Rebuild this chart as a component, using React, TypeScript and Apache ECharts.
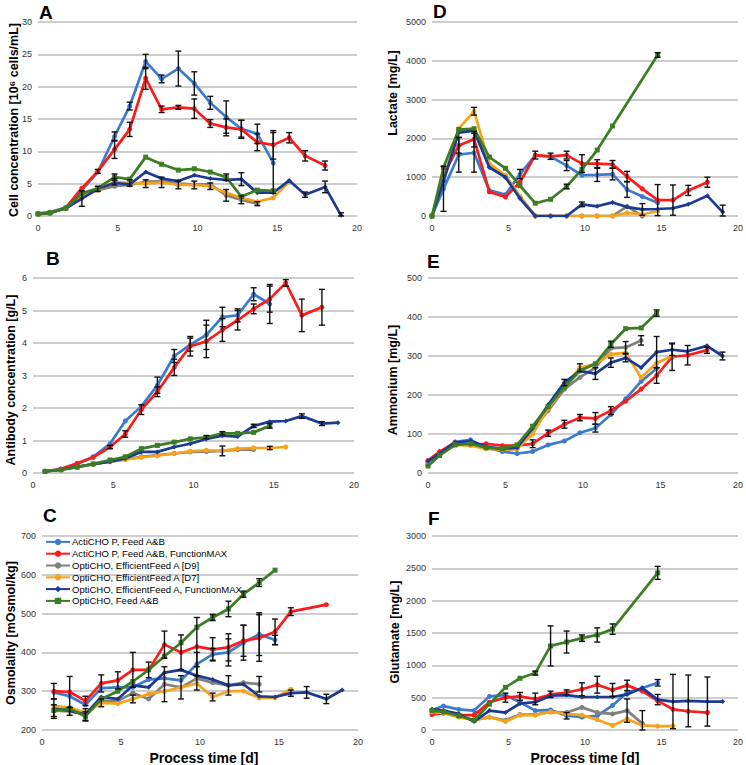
import React, { useEffect, useRef } from "react";
import * as echarts from "echarts";

const _ = null;

// sampling times (process days)
const DAYS = [0, 0.75, 1.75, 2.75, 3.75, 4.8, 5.75, 6.75, 7.75, 8.8, 9.8, 10.8, 11.8, 12.75, 13.75, 14.75, 15.75, 16.75, 18, 19];

const SERIES_NAMES = [
  "ActiCHO P, Feed A&B",
  "ActiCHO P, Feed A&B, FunctionMAX",
  "OptiCHO, EfficientFeed A [D9]",
  "OptiCHO, EfficientFeed A [D7]",
  "OptiCHO, EfficientFeed A, FunctionMAX",
  "OptiCHO, Feed A&B",
];
const COLORS = ["#3b7bcb", "#ff1a1a", "#7f7f7f", "#f7a21b", "#1b3a93", "#3a7d22"];
const SYMBOLS = ["circle", "circle", "circle", "circle", "diamond", "rect"];

// A: cell concentration [10^6 cells/mL]
const cellActiAB = [0.4, 0.6, 1.3, 4.0, 6.8, 12.3, 17.0, 23.9, 21.2, 22.8, 20.5, 17.5, 15.3, 13.5, 12.7, 8.2, _, _, _, _];
const cellActiMax = [0.3, 0.4, 1.3, 4.3, 6.9, 10.3, 13.4, 21.3, 16.5, 16.8, 16.6, 14.3, 13.7, 13.4, 11.4, 11.0, 12.1, 9.3, 7.8, _];
const cellOptiD9 = [0.3, 0.5, 1.2, 3.2, 4.0, 4.6, 4.8, 5.3, 5.4, 5.0, 4.9, 4.9, 3.2, 2.5, 1.9, _, _, _, _, _];
const cellOptiD7 = [0.3, 0.5, 1.2, 3.0, 4.0, 5.3, 5.1, 5.0, 5.2, 4.8, 4.8, 4.6, 3.6, 2.8, 2.2, 2.8, 5.3, _, _, _];
const cellOptiMax = [0.3, 0.5, 1.2, 2.7, 4.2, 5.1, 4.9, 6.8, 5.8, 5.4, 6.3, 5.8, 5.6, 5.7, 3.6, 3.6, 5.5, 3.3, 4.5, 0.1];
const cellOptiAB = [0.3, 0.5, 1.2, 3.5, 4.3, 6.0, 5.7, 9.1, 8.0, 7.1, 7.3, 6.8, 6.0, 3.0, 4.0, 3.9, _, _, _, _];
const cellErrActiAB = [0, 0, 0, 0, 0, 0.7, 0.6, 1.1, 0.6, 2.7, 1.8, 1.0, 2.5, 1.3, 1.5, 4.7, 0, 0, 0, 0];
const cellErrActiMax = [0, 0, 0, 0, 0.3, 1.4, 1.1, 1.7, 0.5, 0.3, 1.5, 0.6, 1.3, 1.4, 1.3, 2.2, 0.8, 0.8, 0.7, 0];
const cellErrOptiD9 = [0, 0, 0, 0, 0, 0, 0, 0, 0, 0, 0, 0, 0.9, 0.6, 0.3, 0, 0, 0, 0, 0];
const cellErrOptiD7 = [0, 0, 0, 0, 0, 0.5, 0.5, 0.6, 0.8, 0.6, 0.6, 0.5, 0, 0, 0, 0, 0, 0, 0, 0];
const cellErrOptiMax = [0, 0, 0, 1.2, 0.4, 0, 0, 0, 0, 0, 0, 0, 0, 1.0, 0, 0, 0, 0.4, 0.9, 0.4];
const cellErrOptiAB = [0, 0, 0, 0, 0, 0.5, 0, 0, 0, 0, 0, 0, 0.5, 0, 0, 0, 0, 0, 0, 0];

// B: antibody concentration [g/L]
const abActiAB = [_, 0.05, 0.12, 0.28, 0.5, 0.9, 1.6, 2.05, 2.7, 3.6, 3.95, 4.25, 4.8, 4.85, 5.5, 5.2, _, _, _, _];
const abActiMax = [_, 0.05, 0.12, 0.3, 0.48, 0.8, 1.2, 1.95, 2.5, 3.25, 3.9, 4.05, 4.4, 4.7, 5.05, 5.35, 5.85, 4.85, 5.1, _];
const abOptiD9 = [_, 0.05, 0.1, 0.18, 0.27, 0.35, 0.42, 0.5, 0.55, 0.6, 0.65, 0.66, 0.68, 0.72, 0.72, _, _, _, _, _];
const abOptiD7 = [_, 0.05, 0.1, 0.18, 0.27, 0.35, 0.42, 0.48, 0.53, 0.6, 0.67, 0.7, 0.68, 0.75, 0.77, 0.77, 0.8, _, _, _];
const abOptiMax = [_, 0.05, 0.1, 0.2, 0.27, 0.35, 0.45, 0.65, 0.65, 0.8, 0.9, 1.05, 1.15, 1.12, 1.45, 1.58, 1.6, 1.75, 1.52, 1.55];
const abOptiAB = [_, 0.05, 0.1, 0.18, 0.28, 0.4, 0.5, 0.75, 0.85, 0.95, 1.05, 1.1, 1.22, 1.22, 1.25, 1.45, _, _, _, _];
const abErrActiAB = [0, 0, 0, 0, 0, 0, 0, 0, 0.25, 0.2, 0.2, 0.45, 0.3, 0.2, 0.2, 0.6, 0, 0, 0, 0];
const abErrActiMax = [0, 0, 0, 0, 0, 0.05, 0.1, 0.15, 0.15, 0.25, 0.3, 0.5, 0.35, 0.3, 0.15, 0.4, 0.1, 0.5, 0.55, 0];
const abErrOptiD9 = [0, 0, 0, 0, 0, 0, 0, 0, 0, 0, 0, 0, 0, 0, 0, 0, 0, 0, 0, 0];
const abErrOptiD7 = [0, 0, 0, 0, 0, 0, 0, 0, 0, 0, 0, 0, 0.15, 0, 0, 0.05, 0, 0, 0, 0];
const abErrOptiMax = [0, 0, 0, 0, 0, 0, 0, 0, 0, 0, 0, 0, 0, 0, 0.05, 0, 0, 0.07, 0.06, 0];
const abErrOptiAB = [0, 0, 0, 0, 0, 0, 0, 0, 0, 0, 0, 0.05, 0.05, 0, 0, 0.07, 0, 0, 0, 0];

// C: osmolality [mOsmol/kg]
const osmActiAB = [_, 297, 287, 265, 308, 310, 310, 330, 333, 328, 370, 395, 400, 425, 447, 432, _, _, _, _];
const osmActiMax = [_, 300, 298, 275, 320, 328, 355, 355, 420, 400, 415, 408, 413, 430, 437, 453, 505, _, 523, _];
const osmOptiD9 = [_, 250, 248, 240, 275, 275, 295, 280, 318, 310, 333, 322, 315, 322, 318, _, _, _, _, _];
const osmOptiD7 = [_, 262, 258, 245, 270, 268, 280, 293, 300, 310, 320, 285, 300, 300, 283, 283, 305, _, _, _];
const osmOptiMax = [_, 255, 250, 240, 285, 280, 315, 310, 348, 355, 340, 330, 315, 318, 287, 285, 295, 297, 280, 303];
const osmOptiAB = [_, 250, 255, 235, 280, 300, 325, 355, 390, 425, 465, 490, 512, 550, 580, 612, _, _, _, _];
const osmErrActiAB = [0, 0, 0, 0, 0, 0, 0, 0, 0, 0, 30, 15, 35, 45, 55, 12, 0, 0, 0, 0];
const osmErrActiMax = [0, 20, 40, 12, 22, 22, 45, 20, 35, 45, 75, 30, 35, 40, 60, 33, 10, 0, 0, 0];
const osmErrOptiD9 = [0, 15, 10, 15, 0, 0, 0, 0, 45, 30, 30, 0, 25, 0, 20, 0, 0, 0, 0, 0];
const osmErrOptiD7 = [0, 0, 0, 0, 10, 0, 10, 0, 0, 0, 0, 10, 0, 0, 0, 0, 0, 0, 0, 0];
const osmErrOptiMax = [0, 25, 0, 0, 0, 0, 0, 0, 0, 0, 0, 0, 0, 0, 0, 0, 8, 15, 12, 0];
const osmErrOptiAB = [0, 0, 0, 12, 0, 0, 0, 0, 0, 0, 0, 8, 20, 8, 10, 0, 0, 0, 0, 0];

// D: lactate [mg/L]
const lacActiAB = [0, 700, 1580, 1630, 660, 550, 1080, 1560, 1530, 1300, 1050, 1060, 1080, 680, 500, 340, _, _, _, _];
const lacActiMax = [0, 1050, 1820, 1980, 620, 490, 870, 1570, 1540, 1570, 1350, 1350, 1330, 1020, 700, 410, 410, 660, 870, _];
const lacOptiD9 = [0, 900, 2200, 2200, 1280, 1000, 500, 0, 0, 0, 0, 0, 0, 250, 0, _, _, _, _, _];
const lacOptiD7 = [0, 950, 2250, 2700, 1350, 1050, 500, 0, 0, 0, 0, 0, 0, 80, 40, 130, _, _, _, _];
const lacOptiMax = [0, 900, 2150, 2200, 1250, 1000, 450, 0, 0, 0, 300, 250, 350, 230, 170, 180, 200, 300, 520, 100];
const lacOptiAB = [0, 1250, 2230, 2250, 1520, 1230, 780, 330, 430, 760, 1200, 1700, 2320, _, _, 4150, _, _, _, _];
const lacErrActiAB = [0, 580, 450, 500, 0, 0, 120, 0, 0, 130, 0, 170, 150, 200, 0, 0, 0, 0, 0, 0];
const lacErrActiMax = [0, 0, 200, 200, 0, 0, 0, 100, 80, 100, 230, 100, 100, 130, 0, 400, 390, 130, 130, 0];
const lacErrOptiD9 = [0, 0, 0, 0, 0, 0, 0, 0, 0, 0, 0, 0, 0, 0, 0, 0, 0, 0, 0, 0];
const lacErrOptiD7 = [0, 0, 0, 100, 0, 0, 0, 0, 0, 0, 0, 0, 0, 0, 0, 0, 0, 0, 0, 0];
const lacErrOptiMax = [0, 0, 0, 0, 0, 0, 0, 0, 0, 0, 60, 0, 0, 0, 150, 0, 0, 0, 0, 180];
const lacErrOptiAB = [0, 0, 0, 0, 0, 0, 0, 0, 0, 60, 0, 0, 0, 0, 0, 60, 0, 0, 0, 0];

// E: ammonium [mg/L]
const nhActiAB = [30, 52, 80, 85, 65, 55, 50, 55, 72, 82, 103, 115, 150, 190, 235, 268, _, _, _, _];
const nhActiMax = [32, 55, 78, 72, 75, 70, 70, 75, 102, 125, 142, 140, 160, 184, 215, 250, 298, 302, 315, _];
const nhOptiD9 = [25, 48, 75, 72, 65, 60, 62, 110, 160, 215, 245, 270, 320, 322, 340, _, _, _, _, _];
const nhOptiD7 = [22, 48, 72, 70, 62, 60, 62, 100, 165, 220, 270, 280, 305, 308, 245, 282, 300, _, _, _];
const nhOptiMax = [30, 50, 78, 82, 68, 62, 65, 115, 175, 232, 262, 255, 283, 295, 270, 310, 316, 312, 326, 300];
const nhOptiAB = [18, 45, 72, 75, 65, 62, 72, 120, 170, 220, 262, 280, 330, 370, 372, 410, _, _, _, _];
const nhErrActiAB = [0, 0, 0, 0, 0, 0, 0, 0, 0, 0, 0, 10, 0, 0, 0, 0, 0, 0, 0, 0];
const nhErrActiMax = [0, 0, 0, 0, 0, 0, 0, 10, 8, 10, 8, 15, 10, 0, 0, 20, 35, 25, 8, 0];
const nhErrOptiD9 = [0, 0, 0, 0, 0, 0, 0, 0, 0, 0, 0, 0, 0, 15, 12, 0, 0, 0, 0, 0];
const nhErrOptiD7 = [0, 0, 0, 0, 0, 0, 0, 0, 0, 0, 10, 0, 0, 0, 0, 0, 0, 0, 0, 0];
const nhErrOptiMax = [0, 0, 0, 0, 0, 0, 0, 0, 0, 8, 0, 15, 12, 10, 0, 40, 15, 0, 0, 10];
const nhErrOptiAB = [0, 0, 0, 0, 0, 0, 0, 0, 0, 0, 0, 0, 8, 0, 0, 8, 0, 0, 0, 0];

// F: glutamate [mg/L]
const gluActiAB = [310, 370, 320, 300, 520, 540, 430, 300, 310, 220, 200, 220, 380, 580, 650, 730, _, _, _, _];
const gluActiMax = [240, 260, 230, 230, 430, 500, 520, 480, 550, 580, 630, 700, 620, 690, 600, 450, 320, 290, 270, _];
const gluOptiD9 = [300, 280, 220, 150, 200, 150, 240, 240, 280, 270, 350, 270, 250, 300, 100, _, _, _, _, _];
const gluOptiD7 = [280, 260, 200, 150, 200, 130, 230, 230, 280, 250, 230, 160, 70, 170, 70, 60, 60, _, _, _];
const gluOptiMax = [320, 300, 250, 130, 300, 270, 410, 430, 530, 540, 510, 510, 510, 550, 650, 470, 440, 450, 440, 440];
const gluOptiAB = [300, 280, 220, 150, 400, 660, 800, 880, 1300, 1360, 1420, 1470, 1560, _, _, 2430, _, _, _, _];
const gluErrActiAB = [0, 0, 0, 0, 0, 0, 0, 0, 0, 50, 0, 0, 0, 0, 0, 50, 0, 0, 0, 0];
const gluErrActiMax = [0, 0, 0, 0, 0, 70, 60, 90, 50, 40, 100, 130, 100, 80, 0, 0, 0, 0, 0, 0];
const gluErrOptiD9 = [0, 0, 0, 0, 0, 0, 0, 0, 0, 0, 0, 0, 0, 180, 200, 0, 0, 0, 0, 0];
const gluErrOptiD7 = [0, 0, 0, 0, 0, 0, 0, 0, 0, 0, 0, 0, 0, 0, 0, 0, 0, 0, 0, 0];
const gluErrOptiMax = [0, 0, 0, 0, 0, 0, 0, 0, 0, 0, 0, 0, 0, 0, 0, 80, 420, 400, 380, 0];
const gluErrOptiAB = [0, 0, 0, 0, 0, 0, 0, 30, 310, 170, 50, 110, 80, 0, 0, 100, 0, 0, 0, 0];

const X_TICKS = { min: 0, max: 20, interval: 5 };

const PANELS = [
  { letter: "A", grid: { left: 38, top: 22, width: 319, height: 194 }, y: { min: 0, max: 30, interval: 5 },
    name: "Cell concentration [10\u2076 cells/mL]", nameX: 14, nameY: 120, letterX: 39, letterY: 3,
    values: [cellActiAB, cellActiMax, cellOptiD9, cellOptiD7, cellOptiMax, cellOptiAB],
    errors: [cellErrActiAB, cellErrActiMax, cellErrOptiD9, cellErrOptiD7, cellErrOptiMax, cellErrOptiAB] },
  { letter: "B", grid: { left: 33, top: 278, width: 321, height: 195 }, y: { min: 0, max: 6, interval: 1 },
    name: "Antibody concentration [g/L]", nameX: 11, nameY: 380, letterX: 46, letterY: 249,
    values: [abActiAB, abActiMax, abOptiD9, abOptiD7, abOptiMax, abOptiAB],
    errors: [abErrActiAB, abErrActiMax, abErrOptiD9, abErrOptiD7, abErrOptiMax, abErrOptiAB] },
  { letter: "C", grid: { left: 42, top: 536, width: 316, height: 194 }, y: { min: 200, max: 700, interval: 100 },
    name: "Osmolality [mOsmol/kg]", nameX: 11, nameY: 633, letterX: 43, letterY: 506,
    values: [osmActiAB, osmActiMax, osmOptiD9, osmOptiD7, osmOptiMax, osmOptiAB],
    errors: [osmErrActiAB, osmErrActiMax, osmErrOptiD9, osmErrOptiD7, osmErrOptiMax, osmErrOptiAB] },
  { letter: "D", grid: { left: 432, top: 22, width: 308, height: 194 }, y: { min: 0, max: 5000, interval: 1000 },
    name: "Lactate [mg/L]", nameX: 393, nameY: 93, letterX: 433, letterY: 2,
    values: [lacActiAB, lacActiMax, lacOptiD9, lacOptiD7, lacOptiMax, lacOptiAB],
    errors: [lacErrActiAB, lacErrActiMax, lacErrOptiD9, lacErrOptiD7, lacErrOptiMax, lacErrOptiAB] },
  { letter: "E", grid: { left: 428, top: 278, width: 312, height: 195 }, y: { min: 0, max: 500, interval: 100 },
    name: "Ammonium [mg/L]", nameX: 393, nameY: 380, letterX: 427, letterY: 252,
    values: [nhActiAB, nhActiMax, nhOptiD9, nhOptiD7, nhOptiMax, nhOptiAB],
    errors: [nhErrActiAB, nhErrActiMax, nhErrOptiD9, nhErrOptiD7, nhErrOptiMax, nhErrOptiAB] },
  { letter: "F", grid: { left: 432, top: 536, width: 308, height: 194 }, y: { min: 0, max: 3000, interval: 500 },
    name: "Glutamate [mg/L]", nameX: 395, nameY: 632, letterX: 428, letterY: 509,
    values: [gluActiAB, gluActiMax, gluOptiD9, gluOptiD7, gluOptiMax, gluOptiAB],
    errors: [gluErrActiAB, gluErrActiMax, gluErrOptiD9, gluErrOptiD7, gluErrOptiMax, gluErrOptiAB] },
];

const AXIS_FONT = "Liberation Sans";

function errorRender(params: any, api: any) {
  const x = api.value(0);
  const lo = api.value(1);
  const hi = api.value(2);
  const top = api.coord([x, hi]);
  const bot = api.coord([x, lo]);
  const cw = 3;
  const style = { stroke: "#111", lineWidth: 1.4, fill: null };
  return {
    type: "group",
    children: [
      { type: "line", shape: { x1: top[0], y1: top[1], x2: bot[0], y2: bot[1] }, style },
      { type: "line", shape: { x1: top[0] - cw, y1: top[1], x2: top[0] + cw, y2: top[1] }, style },
      { type: "line", shape: { x1: bot[0] - cw, y1: bot[1], x2: bot[0] + cw, y2: bot[1] }, style },
    ],
  };
}

function buildOption() {
  const grids: any[] = [];
  const xAxes: any[] = [];
  const yAxes: any[] = [];
  const series: any[] = [];
  const graphics: any[] = [];

  PANELS.forEach((p, pi) => {
    grids.push({ ...p.grid, containLabel: false });
    xAxes.push({
      type: "value", gridIndex: pi, ...X_TICKS,
      axisLine: { show: false }, axisTick: { show: false }, splitLine: { show: false },
      axisLabel: { fontFamily: AXIS_FONT, fontSize: 9, color: "#333", margin: 7, formatter: (v: number) => String(v) },
    });
    yAxes.push({
      type: "value", gridIndex: pi, ...p.y,
      axisLine: { show: false }, axisTick: { show: false },
      splitLine: { show: true, lineStyle: { color: "#bdbdbd", width: 1.5 } },
      axisLabel: { fontFamily: AXIS_FONT, fontSize: 9, color: "#333", margin: 6, formatter: (v: number) => String(v) },
    });
    const errData: any[] = [];
    p.values.forEach((vals, si) => {
      series.push({
        type: "line", name: SERIES_NAMES[si], xAxisIndex: pi, yAxisIndex: pi,
        data: DAYS.map((d, i) => [d, vals[i]]).filter((pt) => pt[1] !== null),
        connectNulls: true,
        symbol: SYMBOLS[si], symbolSize: 5, showSymbol: true,
        lineStyle: { color: COLORS[si], width: 2.7 },
        itemStyle: { color: COLORS[si] },
        z: 2 + si * 0.1,
      });
      const errs = p.errors[si];
      DAYS.forEach((d, i) => {
        const v = vals[i];
        const e = errs[i];
        if (v !== null && e > 0) {
          errData.push([d, Math.max(p.y.min, v - e), Math.min(p.y.max, v + e)]);
        }
      });
    });
    series.push({
      type: "custom", name: "err" + p.letter, xAxisIndex: pi, yAxisIndex: pi,
      renderItem: errorRender, data: errData, encode: { x: 0, y: [1, 2] }, z: 5, silent: true,
    });
    graphics.push({
      type: "text", left: p.letterX, top: p.letterY,
      style: { text: p.letter, font: "bold 19px 'Liberation Sans', Arial, sans-serif", fill: "#000" },
    });
    graphics.push({
      type: "text", x: p.nameX, y: p.nameY, rotation: Math.PI / 2,
      style: { text: p.name, font: "bold 12.5px 'Liberation Sans', Arial, sans-serif", fill: "#000", align: "center", verticalAlign: "middle" },
    });
  });

  graphics.push({
    type: "text", x: 204, y: 758,
    style: { text: "Process time [d]", font: "bold 14px 'Liberation Sans', Arial, sans-serif", fill: "#000", align: "center", verticalAlign: "middle" },
  });
  graphics.push({
    type: "text", x: 585, y: 758,
    style: { text: "Process time [d]", font: "bold 14px 'Liberation Sans', Arial, sans-serif", fill: "#000", align: "center", verticalAlign: "middle" },
  });

  return {
    animation: false,
    backgroundColor: "#fff",
    grid: grids,
    xAxis: xAxes,
    yAxis: yAxes,
    legend: {
      data: SERIES_NAMES,
      orient: "vertical",
      left: 45, top: 536,
      padding: 0, itemGap: 0,
      itemWidth: 24, itemHeight: 8,
      textStyle: { fontFamily: AXIS_FONT, fontSize: 9.5, color: "#000", lineHeight: 11.8, padding: [0, 0, 0, -3] },
      selectedMode: false,
    },
    series,
    graphic: graphics,
  };
}

export default function App() {
  const ref = useRef<HTMLDivElement>(null);
  useEffect(() => {
    if (!ref.current) return;
    const chart = echarts.init(ref.current, null, { renderer: "svg" });
    chart.setOption(buildOption() as any);
    return () => chart.dispose();
  }, []);
  return <div ref={ref} style={{ width: 746, height: 765, position: "absolute", left: 0, top: 0 }} />;
}
